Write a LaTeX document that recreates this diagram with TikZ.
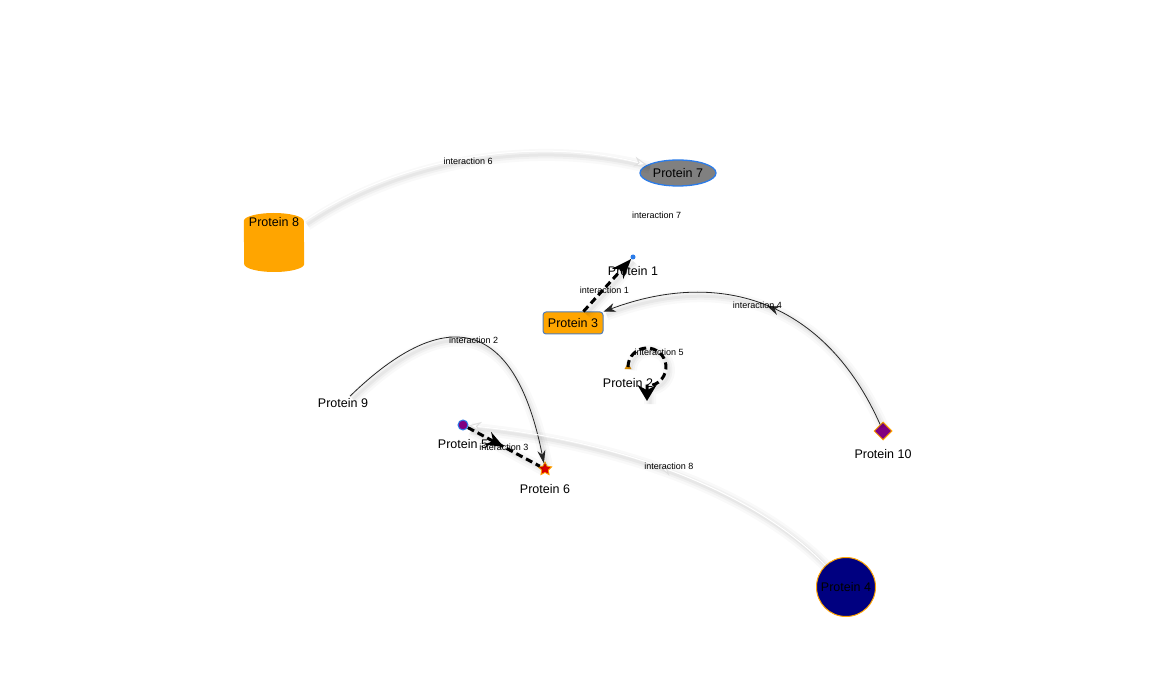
\documentclass[tikz,border=0pt]{standalone}
\usepackage{fontspec}
\setmainfont{Liberation Sans}
\usetikzlibrary{arrows.meta,shapes.geometric,decorations.markings}
\definecolor{visBlue}{HTML}{2B7CE9}
\definecolor{visOrange}{HTML}{FFA500}
\definecolor{visPurple}{HTML}{800080}
\definecolor{visNavy}{HTML}{000080}
\definecolor{visGray}{HTML}{808080}
\newcommand{\labelSize}[0]{\fontsize{12.5}{14}\selectfont}
\newcommand{\edgeSize}[0]{\fontsize{9}{10}\selectfont}

\begin{document}
\begin{tikzpicture}[x=1pt, y=-1pt]
  \tikzset{
    every node/.style={font=\labelSize, inner sep=1pt},
    plabel/.style={font=\labelSize, inner sep=0pt},
    elabel/.style={font=\edgeSize, inner sep=0pt},
    softshadow/.style={
      preaction={draw=black, arrows=-, draw opacity=0.025, line width=12pt, transform canvas={shift={(3,3)}}},
      preaction={draw=black, arrows=-, draw opacity=0.03, line width=7pt, transform canvas={shift={(3,3)}}},
      preaction={draw=black, arrows=-, draw opacity=0.04, line width=3pt, transform canvas={shift={(3,3)}}}},
    thinedge/.style={softshadow, draw=black!85, line width=0.8pt},
    dashedge/.style={softshadow, draw=black, line width=3pt, dash pattern=on 7pt off 4pt},
    whiteedge/.style={softshadow, draw=white, line width=1pt},
    midtip/.style={postaction=decorate, decoration={markings, mark=at position 0.5 with {\arrow{#1}}}}
  }
  \path[use as bounding box, fill=white] (0,0) rectangle (1156,684);

  \node[ellipse, draw=visBlue, line width=1.3pt, fill=visGray, minimum width=76pt, minimum height=26pt, inner sep=0pt] (p7) at (678,173) {Protein 7};
  \node[minimum width=60pt, minimum height=59pt, inner sep=0pt] (p8) at (274,242) {};
  \fill[visOrange] ([yshift=21pt]p8.west) arc[start angle=180, end angle=0, x radius=30pt, y radius=8pt]
    -- ([yshift=-22pt]p8.east) arc[start angle=0, end angle=-180, x radius=30pt, y radius=8pt] -- cycle;
  \node[plabel] at ([yshift=20pt]p8.center) {Protein 8};
  \node[circle, fill=visBlue, minimum size=5pt, inner sep=0pt, label={[plabel, yshift=-14pt]center:Protein 1}] (p1) at (633,257) {};
  \node[draw=visBlue!55!gray, line width=1pt, fill=visOrange, rounded corners=3pt, minimum width=60pt, minimum height=22pt, inner sep=0pt] (p3) at (573,323) {Protein 3};
  \node[regular polygon, regular polygon sides=3, fill=visOrange!85!black, minimum size=8pt, inner sep=0pt, label={[plabel, yshift=-16pt]center:Protein 2}] (p2) at (628,367) {};
  \node[inner sep=2pt] (p9) at (343,403) {Protein 9};
  \node[circle, draw=visBlue, line width=1pt, fill=visPurple, minimum size=10pt, inner sep=0pt, label={[plabel, yshift=-19pt]center:Protein 5}] (p5) at (463,425) {};
  \node[star, star points=5, star point ratio=2, draw=visOrange, fill=red!85!black, line width=0.8pt, minimum size=14pt, inner sep=0pt, label={[plabel, yshift=-20pt]center:Protein 6}] (p6) at (545,469) {};
  \node[diamond, draw=visOrange, fill=visPurple, line width=1pt, minimum size=18pt, inner sep=0pt, label={[plabel, yshift=-23pt]center:Protein 10}] (p10) at (883,431) {};
  \node[circle, draw=visOrange, fill=visNavy, line width=1pt, minimum size=59pt, inner sep=0pt] (p4) at (846,587) {Protein 4};

  \draw[dashedge, -{Stealth[length=20pt, width=15pt]}] (p3) -- node[elabel, xshift=-3pt, yshift=-5pt]{interaction 1} (p1);
  \draw[thinedge, -{Stealth[length=13pt, width=8pt]}] (p9) .. controls +(106,-103) and +(-29,-147) .. node[elabel]{interaction 2} (p6);
  \draw[dashedge, midtip={Stealth[length=18pt, width=14pt]}] (p5) -- node[elabel]{interaction 3} (p6);
  \draw[thinedge, midtip={Stealth[length=12pt, width=9pt]}, -{Stealth[length=12pt, width=9pt]}] (p10) .. controls +(-57,-128) and +(150,-56) .. node[elabel, xshift=-9pt]{interaction 4} (p3);
  \draw[dashedge, -{Stealth[length=16pt, width=19pt]}] (p2.center) arc[start angle=180, delta angle=-130, radius=19pt] node[elabel]{interaction 5} arc[start angle=50, delta angle=-140, radius=19pt] -- ++(0,15);
  \draw[whiteedge, -{Stealth[length=13pt, width=10pt, color=black!12, fill=white]}] (p8) .. controls +(124,-84) and +(-145,-38) .. node[elabel, yshift=-3pt]{interaction 6} (p7);
  \draw[draw=white] (p7) -- node[elabel, xshift=4pt, yshift=5pt]{interaction 7} (p1);
  \draw[whiteedge, midtip={Stealth[length=13pt, width=10pt, color=black!12, fill=white]}, -{Stealth[length=13pt, width=10pt, color=black!12, fill=white]}] (p4) .. controls +(-87,-91) and +(168,17) .. node[elabel, xshift=-14pt, yshift=9pt]{interaction 8} (p5);
\end{tikzpicture}
\end{document}
